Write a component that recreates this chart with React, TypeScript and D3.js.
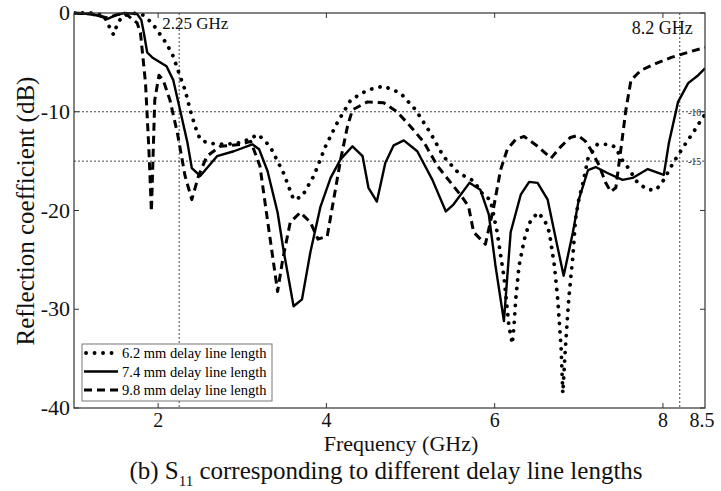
import React from "react";
import * as d3 from "d3";

// ---------- data ----------
const xTicks = [2, 4, 6, 8, 8.5];
const yTicks = [0, -10, -20, -30, -40];
const refFreqs = [2.25, 8.2];
const refLevels = [-10, -15];

const legendLabels = [
  "6.2 mm delay line length",
  "7.4 mm delay line length",
  "9.8 mm delay line length",
];

const freq62 = [1.0, 1.2, 1.35, 1.42, 1.47, 1.52, 1.58, 1.7, 1.82, 1.9, 1.96, 2.1, 2.18, 2.26, 2.32, 2.38, 2.44, 2.5, 2.6, 2.8, 3.0, 3.19, 3.33, 3.49, 3.61, 3.71, 3.85, 3.99, 4.13, 4.29, 4.49, 4.68, 4.88, 5.06, 5.24, 5.39, 5.57, 5.75, 5.87, 5.95, 6.03, 6.11, 6.17, 6.21, 6.23, 6.25, 6.29, 6.35, 6.41, 6.51, 6.59, 6.65, 6.71, 6.75, 6.79, 6.81, 6.84, 6.88, 6.93, 6.96, 7.0, 7.05, 7.11, 7.22, 7.36, 7.44, 7.5, 7.58, 7.7, 7.82, 7.92, 8.01, 8.12, 8.24, 8.36, 8.48, 8.5];
const s11_62 = [0, 0, -0.2, -1.4, -2.2, -1.0, -0.3, 0, -0.2, -0.8, -1.4, -3.1, -4.4, -6.4, -7.8, -9.8, -11.5, -12.8, -13.2, -13.3, -13.1, -12.3, -13.5, -16.2, -18.9, -18.6, -16.5, -13.5, -11.1, -8.8, -7.8, -7.4, -8.1, -9.8, -12.2, -14.5, -16.2, -17.0, -18.5, -18.9, -22.2, -26.7, -31.7, -33.5, -31.7, -29, -25.6, -23, -21.3, -20.2, -20.9, -22.2, -25.6, -29, -34, -38.5, -34, -29, -24.6, -20.9, -18.9, -17.2, -14.7, -13.3, -13.3, -13.6, -14.7, -15.6, -17.2, -17.9, -17.9, -16.9, -15.2, -13.6, -12.1, -10.5, -10.3];

const freq74 = [1.0, 1.2, 1.3, 1.4, 1.5, 1.6, 1.75, 1.8, 1.83, 1.87, 1.93, 2.1, 2.18, 2.26, 2.35, 2.4, 2.5, 2.7, 2.9, 3.12, 3.2, 3.3, 3.42, 3.49, 3.61, 3.71, 3.81, 3.93, 4.05, 4.17, 4.31, 4.43, 4.5, 4.6, 4.7, 4.8, 4.92, 5.08, 5.26, 5.42, 5.51, 5.7, 5.83, 5.93, 6.01, 6.11, 6.19, 6.31, 6.41, 6.51, 6.63, 6.73, 6.82, 6.93, 7.0, 7.11, 7.2, 7.34, 7.52, 7.64, 7.82, 8.01, 8.07, 8.18, 8.3, 8.42, 8.5];
const s11_74 = [0, -0.1, -0.3, -0.6, -0.2, 0, -0.1, -0.7, -2, -4, -4.5, -5.4, -6.8, -9.8, -13.2, -15.7, -16.5, -14.5, -14, -13.3, -13.8, -16, -20.2, -24, -29.7, -29.0, -24.2, -19.6, -16.7, -14.8, -13.5, -14.5, -17.7, -19.1, -15.2, -13.4, -12.9, -14.0, -16.9, -20.1, -19.4, -17.2, -17.9, -20.4, -25.6, -31.2, -22.2, -18.4, -17.1, -17.2, -18.9, -23, -26.6, -22.2, -18.9, -15.9, -15.6, -16.2, -16.9, -16.7, -15.8, -16.4, -13.2, -9.0, -7.1, -6.3, -5.6];

const freq98 = [1.0, 1.2, 1.3, 1.4, 1.5, 1.6, 1.75, 1.79, 1.85, 1.89, 1.92, 1.96, 2.01, 2.06, 2.14, 2.23, 2.32, 2.4, 2.48, 2.58, 2.74, 2.98, 3.1, 3.21, 3.31, 3.42, 3.48, 3.57, 3.69, 3.81, 3.9, 4.01, 4.08, 4.17, 4.25, 4.31, 4.49, 4.68, 4.84, 5.0, 5.16, 5.32, 5.48, 5.61, 5.69, 5.75, 5.89, 5.99, 6.07, 6.15, 6.25, 6.35, 6.51, 6.67, 6.79, 6.9, 6.99, 7.08, 7.14, 7.24, 7.32, 7.38, 7.44, 7.5, 7.56, 7.62, 7.74, 7.92, 8.1, 8.33, 8.5];
const s11_98 = [0, -0.1, -0.3, -0.5, -0.2, 0, -1.0, -2, -7.1, -13.8, -20.1, -8.8, -6.3, -6.8, -8.8, -12.2, -16.5, -18.9, -16.5, -14.5, -13.5, -13.3, -13.0, -15.5, -21.6, -28.2, -25, -21.2, -20.2, -21.2, -22.9, -22.6, -19.2, -14.8, -11.5, -9.8, -9.0, -9.1, -10.0, -11.5, -13.1, -15.5, -17.2, -18.6, -19.6, -22.2, -23.4, -19.6, -15.9, -13.8, -12.8, -12.5, -13.5, -14.7, -13.5, -12.6, -12.4, -13.0, -13.8, -15.4, -17.2, -18.1, -17.7, -13.8, -9.8, -6.8, -5.8, -5.1, -4.5, -3.9, -3.5];

// ---------- styles ----------
const FONT = "'Liberation Serif', 'Times New Roman', serif";
const W = 721;
const H = 491;
const M = { left: 74, right: 705, top: 13, bottom: 408 };

type Style = { width: number; dash?: string; cap: "round" | "butt" };
const styles: Style[] = [
  { width: 3.8, dash: "0.1 8.4", cap: "round" },
  { width: 2.4, cap: "butt" },
  { width: 3.0, dash: "8 5", cap: "butt" },
];

export default function App() {
  const x = d3.scaleLinear().domain([1, 8.5]).range([M.left, M.right]);
  const y = d3.scaleLinear().domain([-40, 0]).range([M.bottom, M.top]);

  const seriesList = [
    { f: freq62, v: s11_62 },
    { f: freq74, v: s11_74 },
    { f: freq98, v: s11_98 },
  ];
  const line = d3
    .line<[number, number]>()
    .x((d) => x(d[0]))
    .y((d) => y(d[1]));

  const plotW = M.right - M.left;
  const plotH = M.bottom - M.top;
  const tickLen = 5;

  return (
    <div>
      <style>{`body{margin:0;background:#fff}`}</style>
      <svg width={W} height={H} viewBox={`0 0 ${W} ${H}`} style={{ display: "block", fontFamily: FONT }}>
        <rect x={0} y={0} width={W} height={H} fill="#fff" />
        <defs>
          <clipPath id="plotclip">
            <rect x={M.left} y={M.top - 2} width={plotW} height={plotH + 2} />
          </clipPath>
        </defs>

        {/* reference grid lines */}
        {refLevels.map((lv) => (
          <line key={"h" + lv} x1={M.left} x2={M.right} y1={y(lv)} y2={y(lv)} stroke="#333" strokeWidth={0.9} strokeDasharray="2 2" />
        ))}
        {refFreqs.map((f) => (
          <line key={"v" + f} x1={x(f)} x2={x(f)} y1={M.top} y2={M.bottom} stroke="#333" strokeWidth={0.9} strokeDasharray="2 2" />
        ))}

        {/* ticks */}
        {xTicks.filter((t) => t < 8.5).map((t) => (
          <g key={"xt" + t}>
            <line x1={x(t)} x2={x(t)} y1={M.bottom} y2={M.bottom - tickLen} stroke="#333" strokeWidth={1} />
            <line x1={x(t)} x2={x(t)} y1={M.top} y2={M.top + tickLen} stroke="#333" strokeWidth={1} />
          </g>
        ))}
        {yTicks.map((t) => (
          <g key={"yt" + t}>
            <line x1={M.left} x2={M.left + tickLen} y1={y(t)} y2={y(t)} stroke="#333" strokeWidth={1} />
            <line x1={M.right} x2={M.right - tickLen} y1={y(t)} y2={y(t)} stroke="#333" strokeWidth={1} />
          </g>
        ))}

        {/* curves */}
        <g clipPath="url(#plotclip)">
          {seriesList.map((s, i) => {
            const pts = s.f.map((f, k) => [f, s.v[k]] as [number, number]);
            const st = styles[i];
            return (
              <path
                key={"s" + i}
                d={line(pts) || ""}
                fill="none"
                stroke="#000"
                strokeWidth={st.width}
                strokeDasharray={st.dash}
                strokeLinecap={st.cap}
                strokeLinejoin="round"
              />
            );
          })}
        </g>

        {/* frame */}
        <rect x={M.left} y={M.top} width={plotW} height={plotH} fill="none" stroke="#333" strokeWidth={1.2} />

        {/* annotations */}
        <text x={x(2.25) - 17} y={29} fontSize={17} fill="#111">2.25 GHz</text>
        <text x={x(8.2) - 48} y={34} fontSize={18} fill="#111">8.2 GHz</text>
        {refLevels.map((lv) => (
          <text key={"rl" + lv} x={M.right - 17} y={y(lv) + 4} fontSize={10} fill="#222">{lv}</text>
        ))}

        {/* tick labels */}
        {xTicks.map((t) => (
          <text key={"xl" + t} x={x(t) - (t === 8.5 ? 3 : 0)} y={M.bottom + 19} fontSize={20} textAnchor="middle" fill="#111">
            {t}
          </text>
        ))}
        {yTicks.map((t) => (
          <text key={"yl" + t} x={M.left - 4} y={y(t) + 7} fontSize={22} textAnchor="end" fill="#111">
            {t}
          </text>
        ))}

        {/* axis titles */}
        <text x={401} y={451} fontSize={22} textAnchor="middle" fill="#111">Frequency (GHz)</text>
        <text transform={`translate(34, 211) rotate(-90)`} fontSize={25} textAnchor="middle" fill="#111">
          Reflection coefficient (dB)
        </text>

        {/* caption */}
        <text x={386} y={478.5} fontSize={25} textAnchor="middle" fill="#111">
          (b) S<tspan fontSize={15} dy={7}>11</tspan>
          <tspan dy={-7}> corresponding to different delay line lengths</tspan>
        </text>

        {/* legend */}
        <g>
          <rect x={82} y={344} width={190} height={57} fill="#fff" stroke="#777" strokeWidth={1} />
          {legendLabels.map((lab, i) => {
            const cy = 353 + i * 18.5;
            const st = styles[i];
            return (
              <g key={"lg" + i}>
                <line
                  x1={i === 0 ? 86 : 84}
                  x2={118}
                  y1={cy}
                  y2={cy}
                  stroke="#000"
                  strokeWidth={st.width}
                  strokeDasharray={st.dash}
                  strokeLinecap={st.cap}
                />
                <text x={122} y={cy + 5} fontSize={14.5} fill="#000">{lab}</text>
              </g>
            );
          })}
        </g>
      </svg>
    </div>
  );
}
